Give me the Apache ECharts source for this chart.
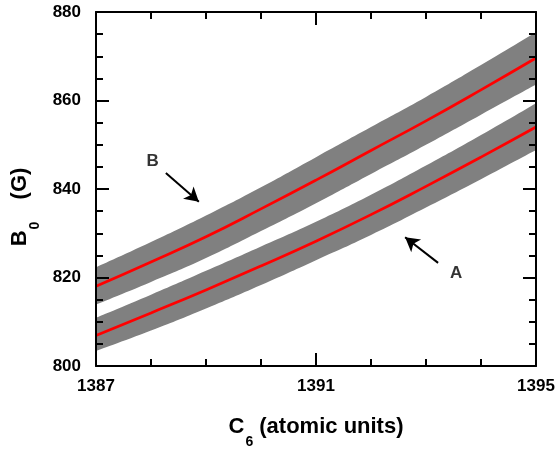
<!DOCTYPE html>
<html>
<head>
<meta charset="utf-8">
<script src="https://cdn.jsdelivr.net/npm/echarts@6/dist/echarts.min.js"></script>
<style>
  html, body { margin: 0; padding: 0; background: #fff; }
  #main { width: 558px; height: 449px; }
</style>
</head>
<body>
<div id="main"></div>
<script>
// C6 values (atomic units)
var c6 = [1387, 1388, 1389, 1390, 1391, 1392, 1393, 1394, 1395];
// band B (upper)
var bMid  = [818.0, 823.5, 829.2, 835.5, 842.0, 848.7, 855.4, 862.4, 869.6];
var bLow  = [813.9, 819.0, 824.4, 830.5, 836.8, 843.4, 850.0, 856.8, 863.6];
var bHigh = [822.3, 828.0, 834.0, 840.4, 847.2, 854.0, 860.8, 868.0, 875.4];
// band A (lower)
var aMid  = [806.9, 812.0, 817.2, 822.6, 828.2, 834.2, 840.6, 847.2, 854.0];
var aLow  = [803.4, 808.0, 813.0, 818.3, 823.9, 829.6, 835.8, 842.2, 848.8];
var aHigh = [810.9, 816.1, 821.5, 827.0, 832.6, 838.7, 845.3, 852.2, 859.4];
// annotations: [label x, label y], arrow from -> to
var labelB = [1388.03, 846.3], arrowB = [[1388.27, 843.6], [1388.87, 837.1]];
var labelA = [1393.55, 821.0], arrowA = [[1393.22, 823.3], [1392.62, 829.1]];

var chart = echarts.init(document.getElementById('main'));

function pairs(ys) {
    return c6.map(function (x, i) { return [x, ys[i]]; });
}

var fontFam = '"Liberation Sans", Arial, sans-serif';
var tickStyle = { color: '#000', width: 2 };
var nameRich = {
    a: { fontSize: 22, fontWeight: 'bold', fontFamily: fontFam, color: '#000', lineHeight: 23, verticalAlign: 'top' },
    s: { fontSize: 14, fontWeight: 'bold', fontFamily: fontFam, color: '#000', lineHeight: 14, verticalAlign: 'top', padding: [19, 0, 0, 1] },
    g: { fontSize: 14, fontWeight: 'bold', fontFamily: fontFam, color: '#000', lineHeight: 14, verticalAlign: 'top', padding: [19, 10, 0, 1] }
};

function xAxisDef(pos, showLabel) {
    return {
        type: 'value', position: pos, min: 1387, max: 1395, interval: 4, z: 10,
        axisLine: { onZero: false, lineStyle: { color: '#000', width: 2 } },
        axisTick: { inside: true, length: 13, lineStyle: tickStyle },
        minorTick: { show: true, splitNumber: 4, length: 7, lineStyle: tickStyle },
        splitLine: { show: false },
        axisLabel: {
            show: showLabel, color: '#000', fontSize: 17, fontWeight: 'bold', fontFamily: fontFam, margin: 12,
            formatter: function (v) { return String(v); }
        }
    };
}
function yAxisDef(pos, showLabel) {
    return {
        type: 'value', position: pos, min: 800, max: 880, interval: 20, z: 10,
        axisLine: { onZero: false, lineStyle: { color: '#000', width: 2 } },
        axisTick: { inside: true, length: 13, lineStyle: tickStyle },
        minorTick: { show: true, splitNumber: 4, length: 7, lineStyle: tickStyle },
        splitLine: { show: false },
        axisLabel: { show: showLabel, color: '#000', fontSize: 17, fontWeight: 'bold', fontFamily: fontFam, margin: 15 }
    };
}

var xMain = xAxisDef('bottom', true);
xMain.name = '{a|C}{s|6}{a| (atomic units)}';
xMain.nameLocation = 'middle';
xMain.nameGap = 50;
xMain.nameTextStyle = { rich: nameRich };

var yMain = yAxisDef('left', true);
yMain.name = '{a|B}{g|0}{a|  (G)}';
yMain.nameLocation = 'middle';
yMain.nameGap = 64;
yMain.nameTextStyle = { padding: [0, 36, 0, 0], rich: nameRich };

// gray bands: fill down from the upper edge, then blank out below the lower edge
function fill(ys, color, z) {
    return {
        type: 'line', smooth: true, symbol: 'none', data: pairs(ys), z: z, silent: true,
        lineStyle: { width: 0 },
        areaStyle: { color: color, opacity: 1, origin: 'start' }
    };
}
function centre(ys) {
    return {
        type: 'line', smooth: true, symbol: 'none', data: pairs(ys), z: 5, silent: true,
        lineStyle: { color: '#ff0000', width: 2.7 }
    };
}
function note(text, pos, arrow) {
    return {
        type: 'scatter', symbolSize: 0, data: [pos], z: 6, silent: true,
        itemStyle: { color: '#000' },
        label: {
            show: true, position: 'inside', formatter: text, color: '#000',
            textBorderWidth: 0, fontSize: 17, fontWeight: 'bold', fontFamily: fontFam
        },
        markLine: {
            silent: true, symbolSize: [12, 14], precision: 4,
            lineStyle: { color: '#000', width: 2, type: 'solid' },
            label: { show: false },
            data: [[{ coord: arrow[0], symbol: 'none' }, { coord: arrow[1], symbol: 'arrow' }]]
        }
    };
}

chart.setOption({
    animation: false,
    backgroundColor: '#fff',
    grid: { left: 96, right: 22, top: 12, bottom: 83, outerBoundsMode: 'none' },
    xAxis: [xMain, xAxisDef('top', false)],
    yAxis: [yMain, yAxisDef('right', false)],
    series: [
        fill(bHigh, '#808080', 1),
        fill(bLow, '#ffffff', 2),
        fill(aHigh, '#808080', 3),
        fill(aLow, '#ffffff', 4),
        centre(bMid),
        centre(aMid),
        note('B', labelB, arrowB),
        note('A', labelA, arrowA)
    ]
});
window.onresize = chart.resize;
</script>
</body>
</html>
